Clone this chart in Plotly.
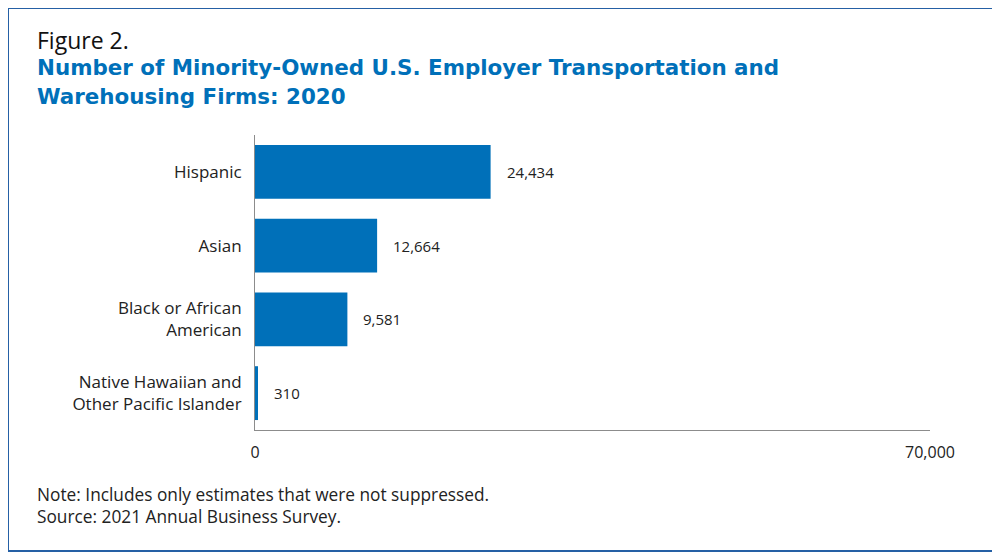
import plotly.graph_objects as go

categories = ["Hispanic", "Asian", "Black or African<br>American", "Native Hawaiian and<br>Other Pacific Islander"]
values = [24434, 12664, 9581, 310]
value_labels = ["24,434", "12,664", "9,581", "310"]
x_ticks = [0, 70000]
x_tick_labels = ["0", "70,000"]

BLUE = "#0070b9"
FONT = "Open Sans"
TFONT = "DejaVu Sans"
OFF = 8  # page body margin
W, H = 1000 - OFF, 558 - OFF
L, R, T, B = 255 - OFF, 70, 135 - OFF, 128
pw, ph = W - L - R, H - T - B

def px_x(p):
    return (p - OFF - L) / pw

def px_y(p):
    return (H - B - (p - OFF)) / ph

fig = go.Figure()
fig.add_trace(go.Bar(
    y=categories, x=values, orientation="h",
    marker=dict(color=BLUE, line=dict(width=0)),
    hoverinfo="skip",
))

for c, v, t in zip(categories, values, value_labels):
    fig.add_annotation(x=v, y=c, xref="x", yref="y", text=t, showarrow=False,
                       xanchor="left", xshift=14, font=dict(family=FONT, size=15, color="#222"))

fig.update_layout(
    width=W, height=H,
    margin=dict(l=L, r=R, t=T, b=B),
    paper_bgcolor="white", plot_bgcolor="white",
    bargap=0.27,
    showlegend=False,
    font=dict(family=FONT, size=16, color="#222"),
    xaxis=dict(range=[0, 70000], tickvals=x_ticks, ticktext=x_tick_labels,
               showgrid=False, zeroline=False, showline=True, linecolor="#8c8c8c", linewidth=1,
               ticks="inside", ticklen=7, tickcolor="#8c8c8c", ticklabelstandoff=8,
               tickfont=dict(family=FONT, size=16, color="#222"), fixedrange=True),
    yaxis=dict(autorange="reversed", showgrid=False, zeroline=False, showline=True,
               linecolor="#8c8c8c", linewidth=1, ticks="", ticklabelstandoff=9,
               tickfont=dict(family=FONT, size=17, color="#222"), fixedrange=True),
)

fig.add_shape(type="rect", xref="paper", yref="paper",
              x0=px_x(8), x1=px_x(993), y0=px_y(551), y1=px_y(8),
              line=dict(color="#2560a5", width=2), layer="below")

fig.add_annotation(xref="paper", yref="paper", x=px_x(35), y=px_y(40), text="Figure 2.",
                   showarrow=False, xanchor="left", yanchor="middle",
                   font=dict(family=FONT, size=23, color="#111"))
title_lines = ["Number of Minority-Owned U.S. Employer Transportation and", "Warehousing Firms: 2020"]
for i, line in enumerate(title_lines):
    fig.add_annotation(xref="paper", yref="paper", x=px_x(35), y=px_y(67 + 29 * i),
                       text="<b>" + line + "</b>",
                       showarrow=False, xanchor="left", yanchor="middle", align="left",
                       font=dict(family=TFONT, size=21.4, color=BLUE))
fig.add_annotation(xref="paper", yref="paper", x=px_x(35), y=px_y(505),
                   text="Note: Includes only estimates that were not suppressed.<br>Source: 2021 Annual Business Survey.",
                   showarrow=False, xanchor="left", yanchor="middle", align="left",
                   font=dict(family=FONT, size=17.3, color="#222"))

fig.write_html("out.html")
